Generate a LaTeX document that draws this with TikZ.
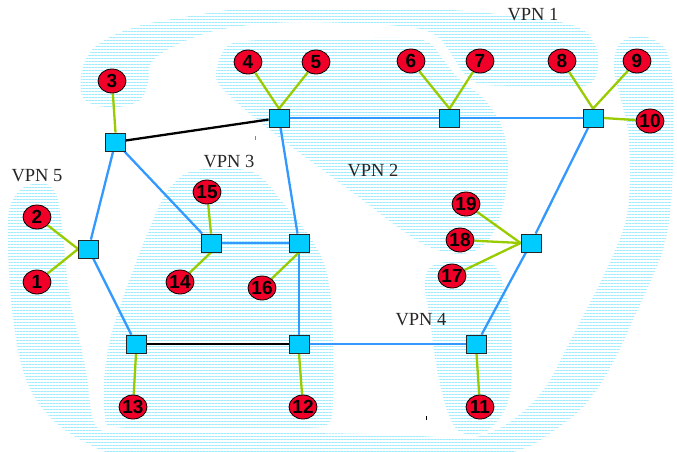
\documentclass[tikz,border=0pt]{standalone}
\usepackage{fontspec}
\setmainfont{Liberation Serif}
\newfontfamily\numfont{Liberation Sans}
\usetikzlibrary{shapes.geometric,patterns.meta}

\definecolor{hatch}{RGB}{160,236,255}
\definecolor{routerfill}{RGB}{0,204,255}
\definecolor{sitefill}{RGB}{240,0,40}
\definecolor{corelink}{RGB}{51,153,255}
\definecolor{accesslink}{RGB}{153,204,0}

\pgfdeclarelayer{hatchlayer}
\pgfdeclarelayer{linklayer}
\pgfsetlayers{hatchlayer,linklayer,main}

\begin{document}
\begin{tikzpicture}[x=1pt,y=-1pt,
  area/.style={pattern={Lines[angle=0,distance=3pt,line width=0.75pt]},pattern color=hatch},
  router/.style={rectangle,draw=black!85,line width=0.8pt,fill=routerfill,
    minimum width=20pt,minimum height=18pt,inner sep=0pt},
  site/.style={ellipse,draw=black,line width=0.8pt,fill=sitefill,
    minimum width=28pt,minimum height=24pt,inner sep=0pt,
    font=\numfont\bfseries\fontsize{19}{19}\selectfont},
  vpnlabel/.style={font=\fontsize{18.5}{18.5}\selectfont,inner sep=0pt,text=black!85},
  core/.style={corelink,line width=2.3pt},
  trunk/.style={black,line width=2.3pt},
  access/.style={accesslink,line width=2.3pt}]

\useasboundingbox (0,0) rectangle (677,451);

% ---------- hatched VPN areas ----------
\begin{pgfonlayer}{hatchlayer}
% upper band with the lobe around site 3 and the shoulder around 7/8
\fill[area] plot[smooth cycle,tension=0.55] coordinates {
 (82,96) (82,70) (92,50) (112,36) (142,25) (173,19) (203,14) (242,9)
 (330,8) (432,9) (497,14) (560,22) (587,33) (598,55) (594,80) (575,87)
 (520,86) (480,84) (463,72) (450,52) (437,36) (415,28) (370,24) (300,22)
 (250,25) (214,31) (185,41) (162,53) (150,65) (148,82) (140,100)
 (118,107) (95,105)};
% VPN 2
\fill[area] plot[smooth cycle,tension=0.55] coordinates {
 (216,78) (224,50) (245,41) (320,39) (400,38) (428,42) (442,58) (460,80)
 (485,100) (503,130) (508,170) (502,210) (490,238) (472,252) (450,253)
 (425,245) (395,225) (360,198) (320,168) (285,142) (255,118) (232,98)};
% VPN 3
\fill[area] plot[smooth cycle,tension=0.55] coordinates {
 (215,168) (245,170) (262,178) (285,205) (305,230) (322,258) (330,290)
 (333,340) (333,400) (328,424) (300,428) (200,428) (115,427) (105,415)
 (104,380) (110,340) (122,300) (135,265) (148,232) (165,195) (185,174)};
% VPN 4
\fill[area] plot[smooth cycle,tension=0.55] coordinates {
 (440,263) (470,260) (494,265) (505,290) (511,327) (511,387) (503,413)
 (485,432) (460,432) (447,410) (437,370) (430,320) (425,287) (428,270)};
% VPN 5 with the lower band and the right-hand arc
\fill[area] plot[smooth cycle,tension=0.5] coordinates {
 (37,183) (20,190) (9,210) (8,250) (12,310) (20,360) (33,395) (55,422)
 (85,442) (130,456) (300,458) (480,456) (525,448) (555,430) (580,410)
 (600,385) (618,353) (633,320) (648,287) (662,253) (670,215) (673,160)
 (673,90) (667,52) (650,38) (630,37) (617,48) (614,70) (621,100)
 (628,130) (630,180) (626,220) (614,253) (598,287) (581,320) (564,353)
 (547,385) (525,410) (500,428) (470,438) (420,436) (370,434) (300,433)
 (200,433) (112,432) (96,426) (91,410) (87,377) (80,343) (72,310)
 (67,277) (63,235) (58,200) (50,186)};
\end{pgfonlayer}

% ---------- labels ----------
\node[vpnlabel] (lab1) at (533,15) {VPN 1};
\node[vpnlabel] (lab2) at (373,171) {VPN 2};
\node[vpnlabel] (lab3) at (229,162) {VPN 3};
\node[vpnlabel] (lab4) at (421,320) {VPN 4};
\node[vpnlabel] (lab5) at (37,176) {VPN 5};

% ---------- routers ----------
\node[router] (ra) at (115.5,142) {};
\node[router] (rb) at (279,118) {};
\node[router] (rc) at (449.5,118) {};
\node[router] (rd) at (593,118) {};
\node[router] (re) at (88.5,249) {};
\node[router] (rf) at (211,243) {};
\node[router] (rg) at (299,243) {};
\node[router] (rh) at (136,344) {};
\node[router] (ri) at (299,344) {};
\node[router] (rj) at (476.5,344) {};
\node[router] (rk) at (531,243) {};

% ---------- customer sites ----------
\node[site] (s1)  at (37,282)  {\makebox[0pt]{1}};
\node[site] (s2)  at (37,217)  {\makebox[0pt]{2}};
\node[site] (s3)  at (112,81)  {\makebox[0pt]{3}};
\node[site] (s4)  at (248,62)  {\makebox[0pt]{4}};
\node[site] (s5)  at (316,62)  {\makebox[0pt]{5}};
\node[site] (s6)  at (411,61)  {\makebox[0pt]{6}};
\node[site] (s7)  at (480,61)  {\makebox[0pt]{7}};
\node[site] (s8)  at (562,61)  {\makebox[0pt]{8}};
\node[site] (s9)  at (637,61)  {\makebox[0pt]{9}};
\node[site] (s10) at (650,121) {\makebox[0pt]{10}};
\node[site] (s11) at (480,407) {\makebox[0pt]{11}};
\node[site] (s12) at (303,407) {\makebox[0pt]{12}};
\node[site] (s13) at (133,407) {\makebox[0pt]{13}};
\node[site] (s14) at (180,282) {\makebox[0pt]{14}};
\node[site] (s15) at (207,192) {\makebox[0pt]{15}};
\node[site] (s16) at (262,288) {\makebox[0pt]{16}};
\node[site] (s17) at (452,276) {\makebox[0pt]{17}};
\node[site] (s18) at (460,240) {\makebox[0pt]{18}};
\node[site] (s19) at (466,204) {\makebox[0pt]{19}};

% ---------- links ----------
\begin{pgfonlayer}{linklayer}
\draw[trunk] (ra) -- (rb);
\draw[trunk] (rh) -- (ri);
\draw[core] (rb) -- (rc);
\draw[core] (rc) -- (rd);
\draw[core] (rb) -- (rg);
\draw[core] (ra) -- (re);
\draw[core] (ra) -- (rf);
\draw[core] (rf) -- (rg);
\draw[core] (rg) -- (ri);
\draw[core] (re) -- (rh);
\draw[core] (ri) -- (rj);
\draw[core] (rj) -- (rk);
\draw[core] (rk) -- (rd);
\draw[access] (s3) -- (ra.north);
\draw[access] (s4) -- (rb.north);
\draw[access] (s5) -- (rb.north);
\draw[access] (s6) -- (rc.north);
\draw[access] (s7) -- (rc.north);
\draw[access] (s8) -- (rd.north);
\draw[access] (s9) -- (rd.north);
\draw[access] (s10) -- (rd.east);
\draw[access] (s2) -- (re.west);
\draw[access] (s1) -- (re.west);
\draw[access] (s15) -- (rf.north);
\draw[access] (s14) -- (rf.south);
\draw[access] (s16) -- (rg.south);
\draw[access] (s13) -- (rh.south);
\draw[access] (s12) -- (ri.south);
\draw[access] (s11) -- (rj.south);
\draw[access] (s19) -- (rk.west);
\draw[access] (s18) -- (rk.west);
\draw[access] (s17) -- (rk.west);
\end{pgfonlayer}

% two stray specks
\fill[corelink] (254.5,135.5) rectangle (255.5,139.5);
\fill[black] (425.5,416) rectangle (426.5,420);
\end{tikzpicture}
\end{document}
